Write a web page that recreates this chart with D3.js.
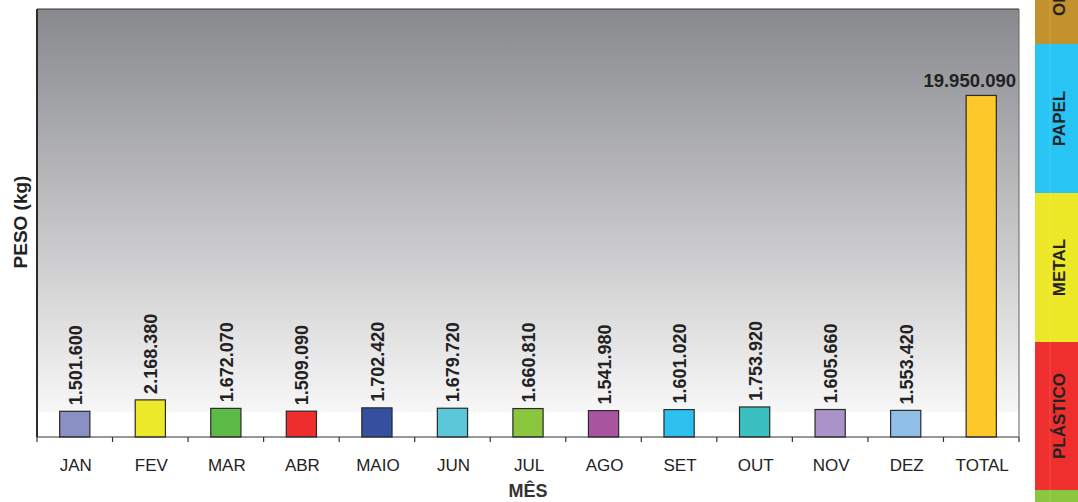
<!DOCTYPE html>
<html><head><meta charset="utf-8">
<script src="https://cdn.jsdelivr.net/npm/d3@7"></script>
<style>body{margin:0;background:#fff}svg{display:block;font-family:"Liberation Sans",Arial,sans-serif}</style>
</head><body><svg id="c" width="1078" height="502"></svg>
<script>
const categories = ["JAN","FEV","MAR","ABR","MAIO","JUN","JUL","AGO","SET","OUT","NOV","DEZ","TOTAL"];
const values = [1501600,2168380,1672070,1509090,1702420,1679720,1660810,1541980,1601020,1753920,1605660,1553420,19950090];
const labels = ["1.501.600","2.168.380","1.672.070","1.509.090","1.702.420","1.679.720","1.660.810","1.541.980","1.601.020","1.753.920","1.605.660","1.553.420","19.950.090"];
const colors = ["#8a8fc4","#ece82a","#5cb946","#ee2d2d","#34509f","#5ac8d8","#8cc63f","#a9559f","#2ec1f0","#3cbfc0","#a993c8","#8fbfe6","#fdc92a"];
const sideCats = ["ORGÂNICO","PAPEL","METAL","PLÁSTICO",""];
const sideColors = ["#c4922d","#28c4f4","#ece827","#ee2f2d","#8cc63f"];
const sideBounds = [-105,44,193,342,490,640];

const svg = d3.select("#c");
const m = {l:37,t:9,r:1019,b:437};
const x = d3.scaleBand().domain(categories).range([m.l,m.r]).paddingInner(0.6).paddingOuter(0.3);
const xt = d3.scaleBand().domain(categories).range([m.l,m.r]);
const y = d3.scaleLinear().domain([0,25000000]).range([m.b,m.t]);

const defs = svg.append("defs");
const g = defs.append("linearGradient").attr("id","bg").attr("x1",0).attr("y1",0).attr("x2",0).attr("y2",1);
g.append("stop").attr("offset","0%").attr("stop-color","#88898d");
g.append("stop").attr("offset","100%").attr("stop-color","#f7f7f7");

svg.append("rect").attr("x",m.l).attr("y",m.t).attr("width",m.r-m.l).attr("height",412-m.t).attr("fill","url(#bg)");

// bars
svg.selectAll("rect.bar").data(categories).join("rect").attr("class","bar")
  .attr("x",d=>x(d)).attr("width",x.bandwidth())
  .attr("y",(d,i)=>y(values[i])).attr("height",(d,i)=>m.b-y(values[i]))
  .attr("fill",(d,i)=>colors[i]).attr("stroke","#2a2a2a").attr("stroke-width",1.2);

// labels (months rotated)
svg.selectAll("text.vl").data(categories.slice(0,12)).join("text").attr("class","vl")
  .attr("transform",(d,i)=>`translate(${x(d)+x.bandwidth()/2+7},${y(values[i])-6}) rotate(-90)`)
  .attr("font-size",18).attr("font-weight","bold").attr("fill","#222")
  .text((d,i)=>labels[i]);
svg.append("text").attr("x",1016).attr("y",y(values[12])-8).attr("text-anchor","end")
  .attr("font-size",18.5).attr("font-weight","bold").attr("fill","#222").text(labels[12]);

// axis
const ax = svg.append("g").attr("transform",`translate(0,${m.b})`);
ax.append("line").attr("x1",m.l).attr("x2",m.r).attr("stroke","#333").attr("stroke-width",1.2);
const tickPos = categories.map(c=>xt(c)).concat([m.r]);
ax.selectAll("line.t").data(tickPos).join("line").attr("class","t")
  .attr("x1",d=>d).attr("x2",d=>d).attr("y1",0).attr("y2",5).attr("stroke","#333").attr("stroke-width",1.2);
ax.selectAll("text").data(categories).join("text")
  .attr("x",d=>xt(d)+xt.bandwidth()/2+1).attr("y",34).attr("text-anchor","middle")
  .attr("font-size",17).attr("fill","#222").text(d=>d);

// borders
svg.append("line").attr("x1",m.l).attr("x2",m.l).attr("y1",m.t).attr("y2",m.b).attr("stroke","#2b2b2b").attr("stroke-width",2);
svg.append("line").attr("x1",m.l).attr("x2",m.r).attr("y1",m.t).attr("y2",m.t).attr("stroke","#333").attr("stroke-width",1.2);
svg.append("line").attr("x1",m.r).attr("x2",m.r).attr("y1",m.t).attr("y2",m.b+4).attr("stroke","#777").attr("stroke-width",1.2);

// axis titles
svg.append("text").attr("transform","translate(27,222) rotate(-90)").attr("text-anchor","middle")
  .attr("font-size",19).attr("font-weight","bold").attr("fill","#222").text("PESO (kg)");
svg.append("text").attr("x",528).attr("y",497).attr("text-anchor","middle")
  .attr("font-size",18).attr("font-weight","bold").attr("fill","#333").text("MÊS");

// side strip
const side = svg.append("g");
side.selectAll("rect").data(sideCats).join("rect")
  .attr("x",1035).attr("width",43).attr("y",(d,i)=>sideBounds[i]).attr("height",(d,i)=>sideBounds[i+1]-sideBounds[i])
  .attr("fill",(d,i)=>sideColors[i]);
side.append("line").attr("x1",1050).attr("x2",1050).attr("y1",0).attr("y2",502).attr("stroke","#fff").attr("stroke-opacity",0.15);
side.selectAll("text").data(sideCats).join("text")
  .attr("transform",(d,i)=>i===0?`translate(1065,16) rotate(-90)`:`translate(1065,${(sideBounds[i]+sideBounds[i+1])/2}) rotate(-90)`)
  .attr("text-anchor",(d,i)=>i===0?"start":"middle").attr("font-size",17).attr("font-weight","bold").attr("fill","#222").text(d=>d);
</script></body></html>
